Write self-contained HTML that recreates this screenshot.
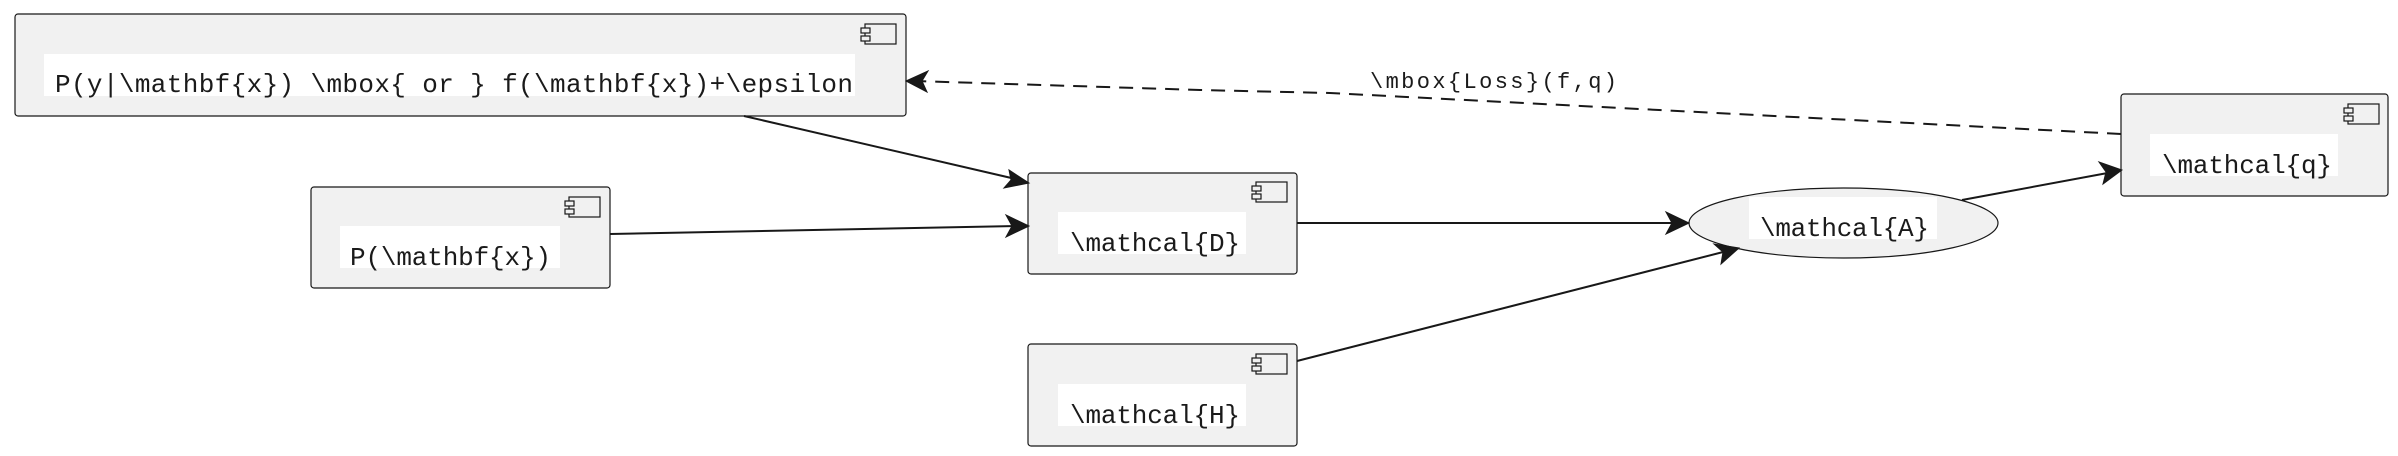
<!DOCTYPE html>
<html><head><meta charset="utf-8"><style>
html,body{margin:0;padding:0;background:#fff;}
svg{display:block;}
text{font-family:"Liberation Mono",monospace;fill:#1a1a1a;}
</style></head><body>
<svg width="2398" height="456" viewBox="0 0 2398 456" xmlns="http://www.w3.org/2000/svg">
<defs>
<g id="ic">
<rect x="0" y="0" width="31" height="20" fill="none" stroke="#181818" stroke-width="1.2"/>
<rect x="-4" y="4" width="9" height="5" fill="#f1f1f1" stroke="#181818" stroke-width="1.2"/>
<rect x="-4" y="12" width="9" height="5" fill="#f1f1f1" stroke="#181818" stroke-width="1.2"/>
</g>
</defs>
<rect x="15" y="14" width="891" height="102" rx="3" fill="#f1f1f1" stroke="#181818" stroke-width="1.2"/>
<use href="#ic" x="865" y="24"/>
<rect x="44" y="54" width="811" height="42" fill="#fff"/>
<text x="55" y="92" font-size="26" textLength="798" lengthAdjust="spacing">P(y|\mathbf{x}) \mbox{ or } f(\mathbf{x})+\epsilon</text>

<rect x="311" y="187" width="299" height="101" rx="3" fill="#f1f1f1" stroke="#181818" stroke-width="1.2"/>
<use href="#ic" x="569" y="197"/>
<rect x="340" y="226" width="220" height="42" fill="#fff"/>
<text x="350" y="265" font-size="26" textLength="201" lengthAdjust="spacing">P(\mathbf{x})</text>

<rect x="1028" y="173" width="269" height="101" rx="3" fill="#f1f1f1" stroke="#181818" stroke-width="1.2"/>
<use href="#ic" x="1256" y="182"/>
<rect x="1058" y="212" width="188" height="42" fill="#fff"/>
<text x="1070" y="251" font-size="26" textLength="170" lengthAdjust="spacing">\mathcal{D}</text>

<rect x="1028" y="344" width="269" height="102" rx="3" fill="#f1f1f1" stroke="#181818" stroke-width="1.2"/>
<use href="#ic" x="1256" y="354"/>
<rect x="1058" y="384" width="188" height="42" fill="#fff"/>
<text x="1070" y="423" font-size="26" textLength="170" lengthAdjust="spacing">\mathcal{H}</text>

<ellipse cx="1843.5" cy="223" rx="154.5" ry="35" fill="#f1f1f1" stroke="#181818" stroke-width="1.2"/>
<rect x="1749" y="197" width="188" height="42" fill="#fff"/>
<text x="1760" y="236" font-size="26" textLength="169" lengthAdjust="spacing">\mathcal{A}</text>

<rect x="2121" y="94" width="267" height="102" rx="3" fill="#f1f1f1" stroke="#181818" stroke-width="1.2"/>
<use href="#ic" x="2348" y="104"/>
<rect x="2150" y="134" width="188" height="42" fill="#fff"/>
<text x="2162" y="173" font-size="26" textLength="170" lengthAdjust="spacing">\mathcal{q}</text>

<g stroke="#181818" stroke-width="2" fill="none">
<line x1="744" y1="116" x2="1020" y2="180"/>
<line x1="610" y1="234" x2="1020" y2="226"/>
<line x1="1297" y1="223" x2="1680" y2="223"/>
<line x1="1297" y1="361" x2="1731" y2="250"/>
<line x1="1962" y1="200" x2="2113" y2="172"/>
<polyline points="2121,134 1659,110 1330,93 1200,90 915,81" stroke-dasharray="14,9"/>
</g>
<g fill="#181818" stroke="#181818" stroke-width="1" stroke-linejoin="miter">
<polygon points="1029,183 1004,188 1011,180 1009,170"/>
<polygon points="1029,226 1006,237 1012,226 1006,215"/>
<polygon points="1689,223 1666,234 1672,223 1666,212"/>
<polygon points="1739,248 1721,264 1723,252 1714,244"/>
<polygon points="2122,170 2103,184 2106,172 2099,162"/>
<polygon points="906,81 928,71 922,81 927,92"/>
</g>
<text x="1370" y="88" font-size="22" textLength="247" lengthAdjust="spacing">\mbox{Loss}(f,q)</text>
</svg>
</body></html>
